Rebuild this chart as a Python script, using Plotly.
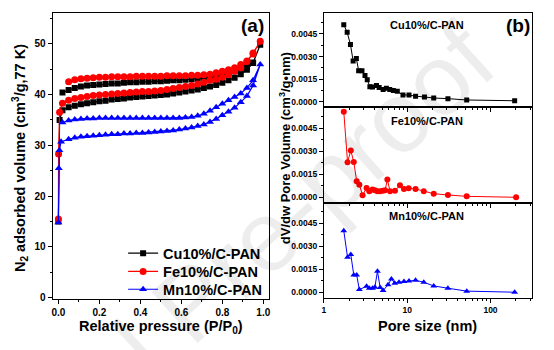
import plotly.graph_objects as go

# ---------------- data: N2 isotherms (panel a) ----------------
cu_p = [0.0, 0.006, 0.02, 0.05, 0.08, 0.11, 0.14, 0.17, 0.20, 0.23, 0.26, 0.29, 0.32, 0.35, 0.38, 0.41,
        0.44, 0.47, 0.50, 0.53, 0.56, 0.59, 0.62, 0.65, 0.68, 0.71, 0.74, 0.77, 0.80, 0.83, 0.86, 0.89,
        0.92, 0.95, 0.985,
        0.95, 0.92, 0.89, 0.86, 0.83, 0.80, 0.77, 0.74, 0.71, 0.68, 0.65, 0.62, 0.59, 0.56, 0.53, 0.50,
        0.47, 0.44, 0.41, 0.38, 0.35, 0.32, 0.29, 0.26, 0.23, 0.20, 0.17, 0.14, 0.11, 0.08, 0.05, 0.02]
cu_v = [15.0, 35.0, 36.9, 37.5, 37.8, 38.1, 38.3, 38.5, 38.7, 38.8, 39.0, 39.1, 39.2, 39.4, 39.5, 39.6,
        39.7, 39.8, 39.9, 40.0, 40.2, 40.4, 40.6, 40.8, 41.0, 41.3, 41.6, 41.9, 42.3, 42.8, 43.3, 44.0,
        44.9, 46.2, 49.8,
        46.3, 45.6, 45.1, 44.6, 44.2, 43.9, 43.6, 43.4, 43.2, 43.1, 43.0, 42.9, 42.8, 42.8, 42.7, 42.6,
        42.6, 42.5, 42.5, 42.4, 42.4, 42.3, 42.2, 42.2, 42.1, 42.0, 41.9, 41.8, 41.6, 41.3, 40.9, 40.4]

fe_p = [0.0, 0.001, 0.006, 0.02, 0.05, 0.08, 0.11, 0.14, 0.17, 0.20, 0.23, 0.26, 0.29, 0.32, 0.35, 0.38,
        0.41, 0.44, 0.47, 0.50, 0.53, 0.56, 0.59, 0.62, 0.65, 0.68, 0.71, 0.74, 0.77, 0.80, 0.83, 0.86,
        0.89, 0.92, 0.95, 0.985,
        0.95, 0.92, 0.89, 0.86, 0.83, 0.80, 0.77, 0.74, 0.71, 0.68, 0.65, 0.62, 0.59, 0.56, 0.53, 0.50,
        0.47, 0.44, 0.41, 0.38, 0.35, 0.32, 0.29, 0.26, 0.23, 0.20, 0.17, 0.14, 0.11, 0.08, 0.05]
fe_v = [15.5, 28.3, 36.5, 38.3, 38.9, 39.2, 39.4, 39.6, 39.8, 39.9, 40.0, 40.1, 40.2, 40.3, 40.4, 40.5,
        40.6, 40.6, 40.7, 40.8, 41.0, 41.2, 41.4, 41.6, 41.8, 42.1, 42.4, 42.8, 43.0, 43.4, 43.9, 44.6,
        45.3, 46.5, 48.0, 50.5,
        48.2, 46.6, 45.9, 45.3, 44.9, 44.6, 44.3, 44.0, 43.9, 43.8, 43.8, 43.7, 43.7, 43.7, 43.7, 43.6,
        43.6, 43.6, 43.6, 43.6, 43.5, 43.5, 43.5, 43.5, 43.4, 43.4, 43.3, 43.2, 43.1, 42.9, 42.5]

mn_p = [0.0, 0.002, 0.005, 0.013, 0.05, 0.08, 0.11, 0.14, 0.17, 0.20, 0.23, 0.26, 0.29, 0.32, 0.35, 0.38,
        0.41, 0.44, 0.47, 0.50, 0.53, 0.56, 0.59, 0.62, 0.65, 0.68, 0.71, 0.74, 0.77, 0.80, 0.83, 0.86,
        0.89, 0.92, 0.95, 0.985,
        0.95, 0.92, 0.89, 0.86, 0.83, 0.80, 0.77, 0.74, 0.71, 0.68, 0.65, 0.62, 0.59, 0.56, 0.53, 0.50,
        0.47, 0.44, 0.41, 0.38, 0.35, 0.32, 0.29, 0.26, 0.23, 0.20, 0.17, 0.14, 0.11, 0.08, 0.05, 0.02]
mn_v = [14.8, 25.5, 29.0, 30.7, 31.2, 31.5, 31.7, 31.8, 31.9, 32.0, 32.1, 32.2, 32.2, 32.3, 32.3, 32.4,
        32.4, 32.5, 32.6, 32.7, 32.8, 32.9, 33.1, 33.3, 33.5, 33.8, 34.1, 34.6, 35.2, 35.9, 36.6, 37.4,
        38.5, 39.7, 41.8, 45.9,
        42.8, 41.3, 40.2, 39.5, 38.9, 38.2, 37.5, 36.8, 36.2, 35.8, 35.6, 35.5, 35.4, 35.4, 35.4, 35.4,
        35.4, 35.4, 35.4, 35.4, 35.4, 35.4, 35.4, 35.4, 35.4, 35.4, 35.3, 35.3, 35.2, 35.1, 34.9, 34.5]

# ---------------- data: pore size distributions (panel b) ----------------
cu_d = [1.73, 1.90, 2.08, 2.24, 2.45, 2.61, 2.86, 3.11, 3.31, 3.56, 3.83, 4.27, 4.60, 5.13, 5.62, 6.17,
        6.81, 7.6, 8.89, 10.5, 12.6, 16.1, 20.8, 30.8, 51.8, 195]
cu_dv = [0.0051, 0.0046, 0.0038, 0.00271, 0.00287, 0.00206, 0.00206, 0.00174, 0.00147, 0.00101, 0.00099,
         0.00108, 0.00095, 0.00082, 0.0009, 0.00082, 0.00075, 0.0007, 0.00046, 0.00046, 0.00038, 0.00033,
         0.00026, 0.00022, 0.00013, 0.00008]

fe_d = [1.73, 1.92, 2.10, 2.28, 2.47, 2.66, 2.91, 3.25, 3.50, 3.83, 4.09, 4.39, 4.73, 5.09, 5.42, 5.77,
        6.22, 7.13, 8.18, 9.13, 10.4, 12.6, 15.8, 20.8, 30.8, 51.8, 203]
fe_dv = [0.00556, 0.00228, 0.00304, 0.0023, 0.00104, 0.00082, 0.00013, 0.00061, 0.00039, 0.0005, 0.00046,
         0.00039, 0.00039, 0.00043, 0.00046, 0.00115, 0.00039, 0.00043, 0.00078, 0.00054, 0.00059, 0.00054,
         0.00039, 0.00023, 0.00015, 0.00006, 0.0]

mn_d = [1.73, 1.92, 2.10, 2.28, 2.47, 2.66, 3.25, 3.50, 3.83, 4.09, 4.39, 4.73, 5.13, 5.89, 6.45, 7.08,
        7.96, 9.14, 10.5, 12.6, 15.8, 20.8, 30.8, 51.8, 195]
mn_dv = [0.00402, 0.00228, 0.00246, 0.00113, 0.00113, 0.00017, 0.00039, 0.00026, 0.00026, 0.00033, 0.00137,
         0.0003, 0.00011, 0.00048, 0.00087, 0.00059, 0.00065, 0.0007, 0.00074, 0.00078, 0.00065, 0.00041,
         0.00026, 0.00007, 0.0]

names = ["Cu10%/C-PAN", "Fe10%/C-PAN", "Mn10%/C-PAN"]
colors = ["#000000", "#FF0000", "#0000FF"]
symbols = ["square", "circle", "triangle-up"]

FONT = "Liberation Sans, Arial, sans-serif"
W, H = 554, 350


def px(x):
    return x / W


def py(y):
    return 1 - y / H


fig = go.Figure()

legend_ids = ["legend", "legend2", "legend3"]
iso = [(cu_p, cu_v), (fe_p, fe_v), (mn_p, mn_v)]
sizes_a = [6, 7, 7]
for (p, v), n, c, s, ms, lg in zip(iso, names, colors, symbols, sizes_a, legend_ids):
    fig.add_trace(go.Scatter(x=p, y=v, mode="lines+markers", name=n, legend=lg,
                             line=dict(color=c, width=1.2),
                             marker=dict(symbol=s, size=ms, color=c),
                             xaxis="x", yaxis="y"))

psd = [(cu_d, cu_dv), (fe_d, fe_dv), (mn_d, mn_dv)]
sizes_b = [5, 6, 6]
for i, ((d, v), n, c, s, ms) in enumerate(zip(psd, names, colors, symbols, sizes_b)):
    k = str(i + 2)
    fig.add_trace(go.Scatter(x=d, y=v, mode="lines+markers", name=n, showlegend=False,
                             line=dict(color=c, width=1),
                             marker=dict(symbol=s, size=ms, color=c),
                             xaxis="x" + k, yaxis="y" + k))

axis_common = dict(showline=True, linecolor="black", linewidth=1, mirror=True,
                   showgrid=False, zeroline=False, ticks="outside", ticklen=4,
                   tickcolor="black", tickwidth=1)

tick_a = dict(family=FONT, size=10, color="black", weight="bold")
tick_b = dict(family=FONT, size=8.5, color="black", weight="bold")

left_x = [px(51), px(269)]
right_x = [px(324.3), px(534)]

legend_font = dict(family=FONT, size=14.5, color="black", weight="bold")
legend_tops = [240, 258.5, 276.5]
legends = {}
for lg, top in zip(legend_ids, legend_tops):
    legends[lg] = dict(x=px(122), y=py(top), xanchor="left", yanchor="top", font=legend_font,
                       bgcolor="rgba(0,0,0,0)", itemwidth=30)

fig.update_layout(
    width=W, height=H,
    margin=dict(l=0, r=0, t=0, b=0),
    paper_bgcolor="white", plot_bgcolor="white",
    font=dict(family=FONT, color="black", weight="bold"),
    xaxis=dict(domain=left_x, range=[-0.028, 1.028], tickvals=[0, 0.2, 0.4, 0.6, 0.8, 1.0],
               tickformat=".1f", tickfont=tick_a, anchor="y",
               minor=dict(tickvals=[0.1, 0.3, 0.5, 0.7, 0.9], ticks="outside", ticklen=2,
                          tickcolor="black"), **axis_common),
    yaxis=dict(domain=[py(302), py(13.5)], range=[-0.2, 56], tickvals=[0, 10, 20, 30, 40, 50],
               tickfont=tick_a, anchor="x",
               minor=dict(tickvals=[5, 15, 25, 35, 45, 55], ticks="outside", ticklen=2,
                          tickcolor="black"), **axis_common),
    **legends,
)

ydoms = [[py(108.5), py(13.5)], [py(205), py(108.5)], [py(301), py(205)]]
for i in range(3):
    k = str(i + 2)
    last = i == 2
    fig.update_layout(**{
        "xaxis" + k: dict(domain=right_x, type="log", range=[0, 2.5], anchor="y" + k,
                          tickvals=[1, 10, 100], showticklabels=last, tickfont=tick_b,
                          minor=dict(tickvals=[2, 3, 4, 5, 6, 7, 8, 9, 20, 30, 40, 50, 60, 70, 80, 90,
                                               200, 300],
                                     ticks="outside", ticklen=2, tickcolor="black"),
                          **axis_common),
        "yaxis" + k: dict(domain=ydoms[i], range=[-0.00035, 0.00585], anchor="x" + k,
                          tickvals=[0, 0.0015, 0.003, 0.0045], tickformat=".4f", tickfont=tick_b,
                          minor=dict(tickvals=[0.00075, 0.00225, 0.00375, 0.00525], ticks="outside",
                                     ticklen=2, tickcolor="black"),
                          **axis_common),
    })

ann = []
# faint watermark of the source page
ann.append(dict(text="Journal Pre-proof", x=px(190), y=py(305), xref="paper", yref="paper",
                textangle=-42, showarrow=False,
                font=dict(family=FONT, size=100, color="rgba(0,0,0,0.07)", weight="normal"),
                xanchor="center", yanchor="middle"))
title_font = dict(family=FONT, size=14.5, color="black", weight="bold")
ann.append(dict(text="N<sub>2</sub> adsorbed volume (cm<sup>3</sup>/g,77 K)", x=px(18), y=py(160),
                xref="paper", yref="paper", textangle=-90, showarrow=False, font=title_font,
                xanchor="center", yanchor="middle"))
ann.append(dict(text="Relative pressure (P/P<sub>0</sub>)", x=px(160), y=py(331),
                xref="paper", yref="paper", showarrow=False, font=title_font,
                xanchor="center", yanchor="middle"))
ann.append(dict(text="dV/dw Pore Volume (cm<sup>3</sup>/g\u2022nm)", x=px(285), y=py(150),
                xref="paper", yref="paper", textangle=-90, showarrow=False,
                font=dict(family=FONT, size=13, color="black", weight="bold"),
                xanchor="center", yanchor="middle"))
ann.append(dict(text="Pore size (nm)", x=px(429), y=py(330),
                xref="paper", yref="paper", showarrow=False, font=title_font,
                xanchor="center", yanchor="middle"))
ann.append(dict(text="(a)", x=px(252), y=py(26), xref="paper", yref="paper", showarrow=False,
                font=dict(family=FONT, size=19, color="black", weight="bold"),
                xanchor="center", yanchor="middle"))
ann.append(dict(text="(b)", x=px(520), y=py(26), xref="paper", yref="paper", showarrow=False,
                font=dict(family=FONT, size=19, color="black", weight="bold"),
                xanchor="center", yanchor="middle"))
for n, yc in zip(names, [25, 122, 219]):
    ann.append(dict(text=n, x=px(428), y=py(yc), xref="paper", yref="paper", showarrow=False,
                    font=dict(family=FONT, size=11, color="black", weight="bold"),
                    xanchor="center", yanchor="middle"))

fig.update_layout(annotations=ann)

fig.write_html("out.html")
